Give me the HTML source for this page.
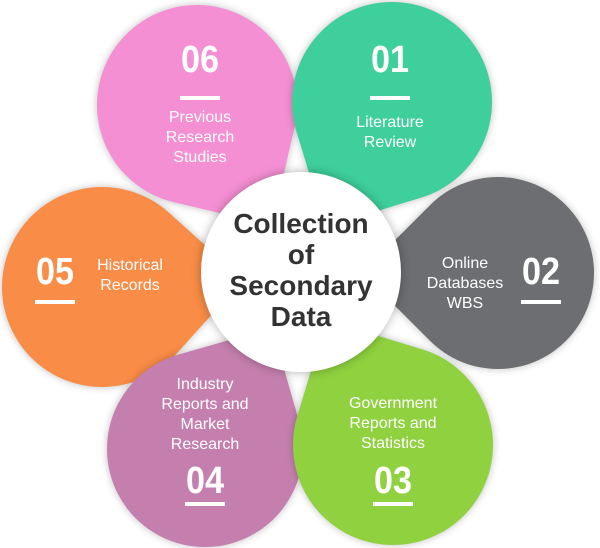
<!DOCTYPE html>
<html><head><style>
body{margin:0;background:#fff;}
#c{position:relative;width:600px;height:548px;overflow:hidden;font-family:"Liberation Sans",sans-serif;}
.p{position:absolute;border-radius:50% 50% 18% 50%;box-shadow:0 0 8px rgba(0,0,0,.25);}
.t{position:absolute;color:#fff;text-align:center;font-size:16px;line-height:20px;transform:translate(-50%,-50%);white-space:nowrap;}
.n{position:absolute;color:#fff;font-weight:bold;font-size:38px;transform:translate(-50%,-50%) scaleX(0.9);line-height:40px;}
.b{position:absolute;height:4px;width:40px;background:#fff;transform:translateX(-50%);}
</style></head><body><div id="c">
<div class="p" style="left:2px;top:187px;width:200px;height:200px;background:#f98c46;transform:rotate(-48deg)"></div>
<div class="p" style="left:97px;top:5px;width:200px;height:200px;background:#f58fd3;transform:rotate(13deg)"></div>
<div class="p" style="left:107px;top:351px;width:196px;height:196px;background:#c57fae;transform:rotate(-106deg)"></div>
<div class="p" style="left:293px;top:345px;width:200px;height:200px;background:#8fd13f;transform:rotate(-163deg)"></div>
<div class="p" style="left:402px;top:177px;width:192px;height:192px;background:#6d6e71;transform:rotate(135deg)"></div>
<div class="p" style="left:292px;top:2px;width:200px;height:200px;background:#3ecf9c;transform:rotate(73deg)"></div>
<div style="position:absolute;left:201px;top:172px;width:200px;height:200px;border-radius:50%;background:#fff;box-shadow:0 0 10px rgba(0,0,0,.3)"></div>
<div class="t" style="left:301px;top:270px;color:#333;font-weight:bold;font-size:28px;line-height:31px;">Collection<br>of<br>Secondary<br>Data</div>

<div class="n" style="left:200px;top:60px">06</div><div class="b" style="left:200px;top:96px"></div>
<div class="t" style="left:200px;top:138px">Previous<br>Research<br>Studies</div>

<div class="n" style="left:390px;top:60px">01</div><div class="b" style="left:390px;top:96px"></div>
<div class="t" style="left:390px;top:133px">Literature<br>Review</div>

<div class="n" style="left:541px;top:272px">02</div><div class="b" style="left:541px;top:300px"></div>
<div class="t" style="left:465px;top:284px">Online<br>Databases<br>WBS</div>

<div class="n" style="left:55px;top:272px">05</div><div class="b" style="left:55px;top:300px"></div>
<div class="t" style="left:130px;top:276px">Historical<br>Records</div>

<div class="t" style="left:205px;top:415px">Industry<br>Reports and<br>Market<br>Research</div>
<div class="n" style="left:205px;top:481px">04</div><div class="b" style="left:205px;top:502px"></div>

<div class="t" style="left:393px;top:424px">Government<br>Reports and<br>Statistics</div>
<div class="n" style="left:393px;top:481px">03</div><div class="b" style="left:393px;top:502px"></div>
</div></body></html>
